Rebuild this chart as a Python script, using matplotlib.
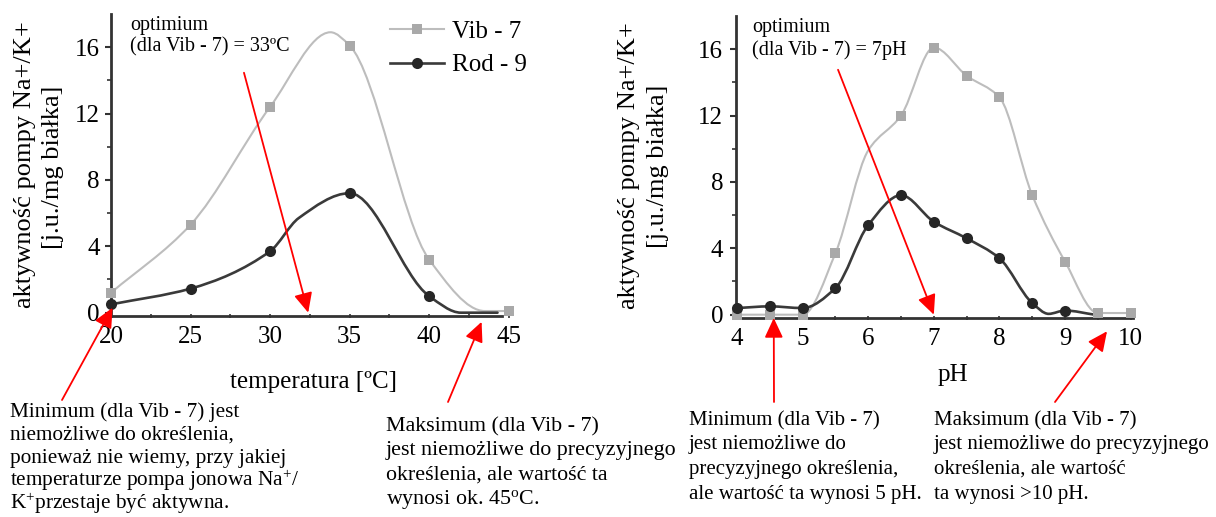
import numpy as np
import matplotlib
matplotlib.use("Agg")
import matplotlib.pyplot as plt
from matplotlib.path import Path
from matplotlib.patches import PathPatch
from matplotlib.lines import Line2D

plt.rcParams['font.family'] = ['Liberation Serif', 'DejaVu Serif']
plt.rcParams['mathtext.fontset'] = 'custom'
plt.rcParams['mathtext.rm'] = 'Liberation Serif'
plt.rcParams['mathtext.it'] = 'Liberation Serif:italic'

# --- temperature panel ---
temp_vib = [20, 25, 30, 35, 40, 45]
vib_temp = [1.2, 5.3, 12.4, 16.1, 3.2, 0.1]
temp_rod = [20, 25, 30, 35, 40]
rod_temp = [0.5, 1.45, 3.7, 7.2, 1.0]
# extra points (no marker there)
vib_temp_knot_x = [33.8, 43.5]
vib_temp_knot_y = [16.9, 0.1]
rod_temp_knot_x = [31.8, 42.0, 44.3]
rod_temp_knot_y = [5.7, 0.0, 0.0]

# --- pH panel ---
ph_vib = [4, 4.5, 5, 5.5, 6.5, 7, 7.5, 8, 8.5, 9, 9.5, 10]
vib_ph = [0, 0, 0, 3.7, 12.0, 16.1, 14.4, 13.1, 7.2, 3.2, 0.1, 0.1]
ph_rod = [4, 4.5, 5, 5.5, 6, 6.5, 7, 7.5, 8, 8.5, 9]
rod_ph = [0.4, 0.5, 0.4, 1.6, 5.4, 7.2, 5.6, 4.6, 3.4, 0.7, 0.25]
vib_ph_knot_x = [6.0]
vib_ph_knot_y = [9.9]
rod_ph_knot_x = [8.75, 9.45]
rod_ph_knot_y = [0.05, 0.0]

y_ticks = [0, 4, 8, 12, 16]
temp_ticks = [20, 25, 30, 35, 40, 45]
ph_ticks = [4, 5, 6, 7, 8, 9, 10]

notes_temp_min = ['Minimum (dla Vib - 7) jest', 'niemożliwe do określenia,',
                  'ponieważ nie wiemy, przy jakiej',
                  'temperaturze pompa jonowa Na$^{+}$/',
                  'K$^{+}$przestaje być aktywna.']
notes_temp_max = ['Maksimum (dla Vib - 7)', 'jest niemożliwe do precyzyjnego',
                  'określenia, ale wartość ta', 'wynosi ok. 45$^{\\mathrm{o}}$C.']
notes_ph_min = ['Minimum (dla Vib - 7)', 'jest niemożliwe do',
                'precyzyjnego określenia,', 'ale wartość ta wynosi 5 pH.']
notes_ph_max = ['Maksimum (dla Vib - 7)', 'jest niemożliwe do precyzyjnego',
                'określenia, ale wartość', 'ta wynosi >10 pH.']

VIB_LINE = '#bdbdbd'
VIB_MARK = '#a9a9a9'
ROD_LINE = '#3a3a3a'
ROD_MARK = '#262626'
AXIS = '#333333'
RED = '#ff0000'


def smooth_path(xs, ys):
    """Monotone cubic (Fritsch-Carlson) through the points, as a bezier Path."""
    pts = sorted(zip(xs, ys))
    x = np.array([p[0] for p in pts], float)
    y = np.array([p[1] for p in pts], float)
    h = np.diff(x)
    d = np.diff(y) / h
    n = len(x)
    m = np.zeros(n)
    m[0], m[-1] = d[0], d[-1]
    for k in range(1, n - 1):
        if d[k - 1] * d[k] <= 0:
            m[k] = 0.0
        else:
            w1 = 2 * h[k] + h[k - 1]
            w2 = h[k] + 2 * h[k - 1]
            m[k] = (w1 + w2) / (w1 / d[k - 1] + w2 / d[k])
    verts = [(x[0], y[0])]
    codes = [Path.MOVETO]
    for k in range(n - 1):
        verts += [(x[k] + h[k] / 3, y[k] + m[k] * h[k] / 3),
                  (x[k + 1] - h[k] / 3, y[k + 1] - m[k + 1] * h[k] / 3),
                  (x[k + 1], y[k + 1])]
        codes += [Path.CURVE4] * 3
    return Path(verts, codes)


def draw_series(ax, xs, ys, kx, ky, lc, mc, lw, marker, ms):
    path = smooth_path(list(xs) + list(kx), list(ys) + list(ky))
    ax.add_patch(PathPatch(path, facecolor='none', edgecolor=lc, lw=lw,
                           capstyle='round', joinstyle='round', zorder=3))
    ax.plot(xs, ys, linestyle='none', marker=marker, ms=ms, color=mc,
            markeredgewidth=0, zorder=4, clip_on=False)


def style_axes(ax, xlim, xticks, xminor, xbound, ypad):
    ax.set_xlim(*xlim)
    ax.set_ylim(-0.2, 18)
    for s in ['top', 'right']:
        ax.spines[s].set_visible(False)
    for s in ['left', 'bottom']:
        ax.spines[s].set_color(AXIS)
        ax.spines[s].set_linewidth(2)
    ax.spines['bottom'].set_bounds(*xbound)
    ax.set_yticks(y_ticks)
    ax.set_yticks([2, 6, 10, 14], minor=True)
    ax.set_xticks(xticks)
    ax.set_xticks(xminor, minor=True)
    ax.tick_params(axis='y', which='major', length=4, width=1.5, color=AXIS,
                   labelsize=18, pad=ypad)
    ax.tick_params(axis='y', which='minor', length=3, width=1.2, color=AXIS)
    ax.tick_params(axis='x', which='both', length=3, width=1.2, color=AXIS,
                   direction='inout', labelsize=18, pad=6)


def red_arrow(ax, tip, tail, tail_coords='data'):
    ax.annotate('', xy=tip, xycoords='data', xytext=tail, textcoords=tail_coords,
                arrowprops=dict(arrowstyle='-|>,head_length=0.6,head_width=0.28',
                                mutation_scale=20, color=RED, lw=1.3,
                                shrinkA=0, shrinkB=0),
                annotation_clip=False, zorder=6)


def note(fig, x, y_first, lines, size, step):
    # one text per line so that superscripts do not change the spacing
    for i, s in enumerate(lines):
        y = y_first + i * step + 7
        fig.text(x / W, (H - y) / H, s, fontsize=size, ha='left', va='baseline')


W, H = 1216, 517
fig = plt.figure(figsize=(W / 100, H / 100), dpi=100)

# left panel: temperature
ax1 = fig.add_axes([111 / W, (H - 316) / H, 404 / W, 302 / H])
draw_series(ax1, temp_vib, vib_temp, vib_temp_knot_x, vib_temp_knot_y,
            VIB_LINE, VIB_MARK, 1.5, 's', 7)
draw_series(ax1, temp_rod, rod_temp, rod_temp_knot_x, rod_temp_knot_y,
            ROD_LINE, ROD_MARK, 1.9, 'o', 8)
style_axes(ax1, (20, 45.4), temp_ticks, [22.5, 27.5, 32.5, 37.5, 42.5],
           (20, 44.6), 4)
ax1.text(130 / W, 0.97, 'optimium\n(dla Vib - 7) = 33ºC', transform=fig.transFigure,
         fontsize=14.5, va='top', ha='left', linespacing=1.2)

handles = [Line2D([], [], color=VIB_LINE, lw=1.5, marker='s', ms=7,
                  markerfacecolor=VIB_MARK, markeredgewidth=0),
           Line2D([], [], color=ROD_LINE, lw=1.9, marker='o', ms=8,
                  markerfacecolor=ROD_MARK, markeredgewidth=0)]
fig.legend(handles, ['Vib - 7', 'Rod - 9'], loc='upper left',
           bbox_to_anchor=(390 / W, (H - 20) / H), frameon=False, fontsize=18,
           handlelength=2.15, handletextpad=0.35, labelspacing=0.45,
           borderpad=0, borderaxespad=0)

red_arrow(ax1, (32.4, 0.0), (28.36, 14.46))
red_arrow(ax1, (20.1, 0.3), (62, H - 400), 'figure pixels')
red_arrow(ax1, (43.3, -0.55), (448, H - 402), 'figure pixels')

fig.text(25 / W, (H - 165) / H, 'aktywność pompy Na+/K+', rotation=90,
         ha='center', va='center', fontsize=19)
fig.text(53 / W, (H - 167) / H, '[j.u./mg białka]', rotation=90,
         ha='center', va='center', fontsize=19)
fig.text(313 / W, (H - 382) / H, 'temperatura [ºC]', ha='center', va='center',
         fontsize=18)

# right panel: pH
ax2 = fig.add_axes([735.7 / W, (H - 318) / H, 401.5 / W, 302 / H])
draw_series(ax2, ph_vib, vib_ph, vib_ph_knot_x, vib_ph_knot_y,
            VIB_LINE, VIB_MARK, 1.5, 's', 7)
draw_series(ax2, ph_rod, rod_ph, rod_ph_knot_x, rod_ph_knot_y,
            ROD_LINE, ROD_MARK, 1.9, 'o', 8)
style_axes(ax2, (3.98, 10.1), ph_ticks, [4.5, 5.5, 6.5, 7.5, 8.5, 9.5],
           (3.98, 10.03), 5)
ax2.text(752 / W, 0.965, 'optimium\n(dla Vib - 7) = 7pH', transform=fig.transFigure,
         fontsize=14.5, va='top', ha='left', linespacing=1.2)

red_arrow(ax2, (7.0, 0.0), (5.54, 14.76))
red_arrow(ax2, (4.56, -0.2), (774, H - 402), 'figure pixels')
red_arrow(ax2, (9.64, -1.0), (1055, H - 402), 'figure pixels')

fig.text(629 / W, (H - 166) / H, 'aktywność pompy Na+/K+', rotation=90,
         ha='center', va='center', fontsize=19)
fig.text(658 / W, (H - 166) / H, '[j.u./mg białka]', rotation=90,
         ha='center', va='center', fontsize=19)
fig.text(953 / W, (H - 375) / H, 'pH', ha='center', va='center', fontsize=18)

# notes under the charts
note(fig, 10, 410, notes_temp_min, 15.3, 23.0)
note(fig, 386, 424, notes_temp_max, 15.8, 24.3)
note(fig, 689, 418, notes_ph_min, 15.0, 24.5)
note(fig, 934, 418, notes_ph_max, 15.0, 24.5)

fig.savefig('out.png', dpi=100)
